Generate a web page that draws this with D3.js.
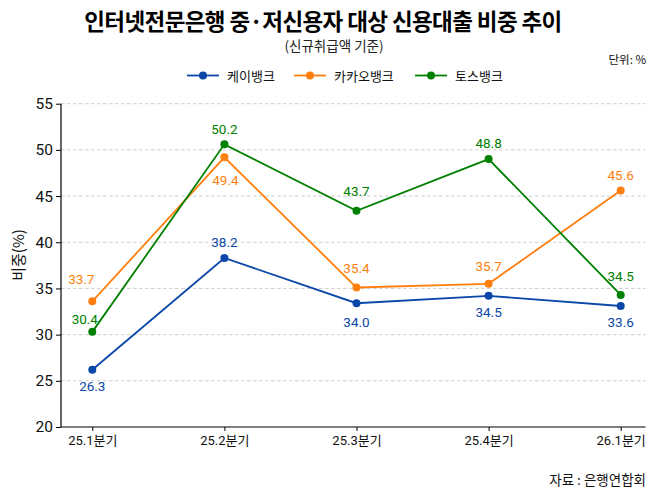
<!DOCTYPE html>
<html><head><meta charset="utf-8">
<script src="https://cdn.jsdelivr.net/npm/d3@7"></script>
<style>
html,body{margin:0;padding:0;background:#fff;}
svg{display:block;font-family:"Noto Sans CJK KR","Noto Sans",sans-serif;}
</style></head>
<body>
<svg id="chart" width="658" height="494"></svg>
<script>
// ---- data ----
const categories = ["25.1분기", "25.2분기", "25.3분기", "25.4분기", "26.1분기"];
const seriesNames = ["케이뱅크", "카카오뱅크", "토스뱅크"];
// plotted values (as drawn in the picture)
const kbankValues = [26.2, 38.3, 33.4, 34.2, 33.1];
const kakaoValues = [33.6, 49.2, 35.1, 35.5, 45.6];
const tossValues  = [30.3, 50.6, 43.4, 49.0, 34.3];
// printed labels
const kbankLabels = ["26.3", "38.2", "34.0", "34.5", "33.6"];
const kakaoLabels = ["33.7", "49.4", "35.4", "35.7", "45.6"];
const tossLabels  = ["30.4", "50.2", "43.7", "48.8", "34.5"];
const yTicks = [20, 25, 30, 35, 40, 45, 50, 55];

// ---- layout / style ----
const colors = ["#0a47a8", "#ff7f0e", "#008000"];
const labelOffsets = [
  [[0,16.5],[0,-16],[0,18.5],[0,16.5],[0,16.5]],
  [[-11,-22],[1,22.5],[0,-19.5],[0,-17.5],[0,-16]],
  [[-7.5,-13],[0,-15],[0,-20],[0,-16],[0,-18.5]]
];
const series = [
  {name: seriesNames[0], values: kbankValues, labels: kbankLabels},
  {name: seriesNames[1], values: kakaoValues, labels: kakaoLabels},
  {name: seriesNames[2], values: tossValues, labels: tossLabels}
];

const svg = d3.select("#chart");
const plotLeft = 61, plotRight = 645.5, plotTop = 103.7, plotBottom = 427;

const x = d3.scalePoint().domain(categories).range([92.3, 620.7]);
const y = d3.scaleLinear().domain([20, 55]).range([plotBottom, plotTop]);

// gridlines
svg.append("g").selectAll("line").data(yTicks.filter(t => t > 20)).join("line")
  .attr("x1", plotLeft).attr("x2", plotRight)
  .attr("y1", d => y(d)).attr("y2", d => y(d))
  .attr("stroke", "#c8c8c8").attr("stroke-width", 0.9)
  .attr("stroke-dasharray", "3.5,2.5");

// axes
const yAxis = svg.append("g").attr("transform", `translate(${plotLeft},0)`)
  .call(d3.axisLeft(y).tickValues(yTicks).tickSize(5).tickPadding(3));
yAxis.select(".domain").attr("d", `M-0,${plotTop}V${plotBottom}`).attr("stroke", "#000").attr("stroke-width", 1.2);
yAxis.selectAll("text").attr("font-family", "Roboto, 'Liberation Sans', sans-serif").attr("font-size", 15.5).attr("fill", "#111");

const xAxis = svg.append("g").attr("transform", `translate(0,${plotBottom})`)
  .call(d3.axisBottom(x).tickSize(4).tickPadding(5));
xAxis.select(".domain").attr("d", `M${plotLeft},0H${plotRight}`).attr("stroke", "#000").attr("stroke-width", 1.2);
xAxis.selectAll("text").attr("font-family", "Roboto, 'Noto Sans CJK KR', sans-serif").attr("font-size", 13).attr("fill", "#111");

// lines, markers, labels
const line = d3.line().x((d, i) => x(categories[i])).y(d => y(d));
series.forEach((s, si) => {
  const g = svg.append("g");
  g.append("path").datum(s.values).attr("d", line)
    .attr("fill", "none").attr("stroke", colors[si]).attr("stroke-width", 1.8);
  g.selectAll("circle").data(s.values).join("circle")
    .attr("cx", (d, i) => x(categories[i])).attr("cy", d => y(d)).attr("r", 4)
    .attr("fill", colors[si]);
  g.selectAll("text").data(s.values).join("text")
    .attr("x", (d, i) => x(categories[i]) + labelOffsets[si][i][0])
    .attr("y", (d, i) => y(d) + labelOffsets[si][i][1])
    .attr("text-anchor", "middle").attr("dominant-baseline", "central")
    .attr("font-family", "Roboto, 'Liberation Sans', sans-serif")
    .attr("font-size", 13.5).attr("fill", colors[si])
    .text((d, i) => s.labels[i]);
});

// title & subtitle
svg.append("text").attr("x", 323).attr("y", 20).attr("text-anchor", "middle")
  .attr("dominant-baseline", "central").attr("font-size", 22.5).attr("font-weight", "bold")
  .attr("letter-spacing", -0.6).attr("fill", "#000")
  .text("인터넷전문은행 중·저신용자 대상 신용대출 비중 추이");
svg.append("text").attr("x", 334).attr("y", 45).attr("text-anchor", "middle")
  .attr("dominant-baseline", "central").attr("font-size", 13.5).attr("fill", "#222")
  .text("(신규취급액 기준)");
svg.append("text").attr("x", 646).attr("y", 59).attr("text-anchor", "end")
  .attr("dominant-baseline", "central").attr("font-size", 11.5).attr("fill", "#111")
  .text("단위: %");

// legend
const legendX = [187, 294, 415];
series.forEach((s, si) => {
  const g = svg.append("g").attr("transform", `translate(${legendX[si]},75.5)`);
  g.append("line").attr("x1", 0).attr("x2", 32).attr("stroke", colors[si]).attr("stroke-width", 1.8);
  g.append("circle").attr("cx", 16).attr("r", 4).attr("fill", colors[si]);
  g.append("text").attr("x", 40).attr("dominant-baseline", "central")
    .attr("font-size", 13).attr("fill", "#111").text(s.name);
});

// y axis title
svg.append("text").attr("transform", "translate(17,255) rotate(-90)")
  .attr("text-anchor", "middle").attr("dominant-baseline", "central")
  .attr("font-size", 15).attr("fill", "#111").text("비중(%)");

// source
svg.append("text").attr("x", 646).attr("y", 479).attr("text-anchor", "end")
  .attr("dominant-baseline", "central").attr("font-size", 13.5).attr("fill", "#111")
  .text("자료 : 은행연합회");
</script>
</body></html>
